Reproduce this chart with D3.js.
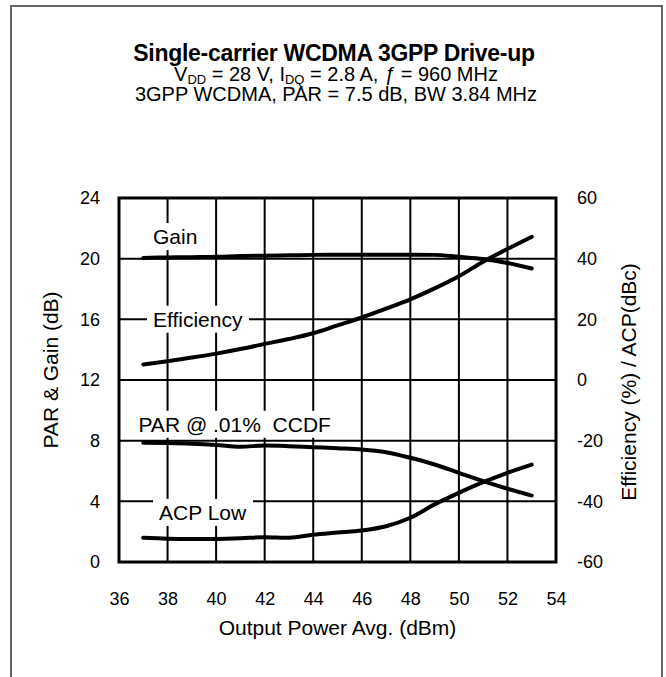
<!DOCTYPE html>
<html>
<head>
<meta charset="utf-8">
<script src="https://cdn.jsdelivr.net/npm/d3@7"></script>
<style>
  body { margin: 0; background: #fff; }
  text { font-family: Arial, "Liberation Sans", sans-serif; fill: #000; }
</style>
</head>
<body>
<svg id="chart" width="666" height="677"></svg>
<script>
/* Drive-up curves for a single-carrier WCDMA amplifier. Gain and PAR use
   the left axis (dB); efficiency and ACP use the right axis. */
const WIDTH = 666, HEIGHT = 677;
const plot = {left: 119, right: 556, top: 198, bottom: 562};

// values
const pout = [37, 38, 39, 40, 41, 42, 43, 44, 45, 46, 47, 48, 49, 50, 51, 52, 53];
const gain = [20.05, 20.08, 20.1, 20.12, 20.18, 20.2, 20.22, 20.25, 20.26, 20.26, 20.26, 20.26, 20.25, 20.12, 19.98, 19.72, 19.35];
const par = [7.86, 7.84, 7.8, 7.72, 7.6, 7.68, 7.64, 7.57, 7.5, 7.42, 7.24, 6.87, 6.43, 5.88, 5.33, 4.83, 4.38];
const efficiency = [5.1, 6.2, 7.4, 8.7, 10.2, 11.9, 13.5, 15.4, 18.0, 20.6, 23.5, 26.6, 30.2, 34.2, 39.0, 43.2, 47.2];
const acp = [-52.0, -52.3, -52.4, -52.4, -52.2, -51.8, -52.0, -51.0, -50.3, -49.6, -48.2, -45.4, -41.0, -37.2, -33.7, -30.6, -27.9];

const xTicks = [36, 38, 40, 42, 44, 46, 48, 50, 52, 54];
const leftTicks = [0, 4, 8, 12, 16, 20, 24];
const rightTicks = [-60, -40, -20, 0, 20, 40, 60];

// curve labels: [text, x (dBm), y (left axis dB)]
const curveLabels = [
    ['Gain', 37.4, 21.45],
    ['Efficiency', 37.4, 16.0],
    ['PAR @ .01%  CCDF', 36.8, 9.07],
    ['ACP Low', 37.65, 3.26]
];

const x = d3.scaleLinear().domain([36, 54]).range([plot.left, plot.right]);
const yLeft = d3.scaleLinear().domain([0, 24]).range([plot.bottom, plot.top]);
const yRight = d3.scaleLinear().domain([-60, 60]).range([plot.bottom, plot.top]);

const svg = d3.select('#chart');

// outer frame, open at the bottom
svg.append('path')
    .attr('d', `M11,${HEIGHT} V6 H662 V${HEIGHT}`)
    .attr('fill', 'none')
    .attr('stroke', '#666')
    .attr('stroke-width', 2);

// title block
const title = svg.append('g').attr('text-anchor', 'middle');
title.append('text')
    .attr('x', 334).attr('y', 61)
    .attr('font-size', 23).attr('font-weight', 'bold')
    .attr('letter-spacing', -0.3)
    .text('Single-carrier WCDMA 3GPP  Drive-up');
let line2 = title.append('text').attr('x', 336).attr('y', 81).attr('font-size', 20);
line2.append('tspan').text('V');
line2.append('tspan').attr('font-size', 13).attr('dy', 3).text('DD');
line2.append('tspan').attr('dy', -3).text(' = 28 V, I');
line2.append('tspan').attr('font-size', 13).attr('dy', 3).text('DQ');
line2.append('tspan').attr('dy', -3).text(' = 2.8 A, ');
line2.append('tspan').attr('font-style', 'italic').text('ƒ');
line2.append('tspan').text(' = 960 MHz');
title.append('text')
    .attr('x', 336).attr('y', 101)
    .attr('font-size', 20)
    .text('3GPP WCDMA, PAR = 7.5 dB, BW 3.84 MHz');

// grid
const grid = svg.append('g').attr('stroke', '#000').attr('stroke-width', 2);
grid.selectAll('line.v')
    .data(xTicks.slice(1, -1))
    .join('line')
    .attr('class', 'v')
    .attr('x1', d => x(d)).attr('x2', d => x(d))
    .attr('y1', plot.top).attr('y2', plot.bottom);
grid.selectAll('line.h')
    .data(leftTicks.slice(1, -1))
    .join('line')
    .attr('class', 'h')
    .attr('x1', plot.left).attr('x2', plot.right)
    .attr('y1', d => yLeft(d)).attr('y2', d => yLeft(d));

// white boxes behind the curve labels break the grid
const labels = svg.append('g');
curveLabels.forEach(([txt, lx, ly]) => {
    let box = labels.append('rect').attr('fill', '#fff');
    let t = labels.append('text')
        .attr('x', x(lx)).attr('y', yLeft(ly))
        .attr('dy', '0.35em')
        .attr('font-size', 21)
        .style('white-space', 'pre')
        .text(txt);
    let bb = t.node().getBBox();
    box.attr('x', bb.x - 6).attr('y', bb.y - 2)
        .attr('width', bb.width + 12).attr('height', bb.height + 4);
});

// plot border
svg.append('rect')
    .attr('x', plot.left).attr('y', plot.top)
    .attr('width', plot.right - plot.left).attr('height', plot.bottom - plot.top)
    .attr('fill', 'none').attr('stroke', '#000').attr('stroke-width', 3);

// curves
const leftLine = d3.line().x((d, i) => x(pout[i])).y(d => yLeft(d)).curve(d3.curveMonotoneX);
const rightLine = d3.line().x((d, i) => x(pout[i])).y(d => yRight(d)).curve(d3.curveMonotoneX);
const curves = svg.append('g')
    .attr('fill', 'none').attr('stroke', '#000')
    .attr('stroke-width', 4).attr('stroke-linecap', 'round');
curves.append('path').attr('d', leftLine(gain));
curves.append('path').attr('d', leftLine(par));
curves.append('path').attr('d', rightLine(efficiency));
curves.append('path').attr('d', rightLine(acp));

// axes (labels only, the frame is drawn above)
const axisFont = g => g.call(a => a.select('.domain').remove())
    .call(a => a.selectAll('.tick line').remove())
    .call(a => a.selectAll('.tick text').attr('font-size', 18)
        .attr('font-family', 'Arial, "Liberation Sans", sans-serif').attr('fill', '#000'));
const plain = d => String(d);   // hyphen minus, like the reference

svg.append('g')
    .attr('transform', `translate(0,${plot.bottom + 22})`)
    .call(d3.axisBottom(x).tickValues(xTicks).tickFormat(plain).tickSize(0).tickPadding(8))
    .call(axisFont);
svg.append('g')
    .attr('transform', `translate(${plot.left - 19},0)`)
    .call(d3.axisLeft(yLeft).tickValues(leftTicks).tickFormat(plain).tickSize(0).tickPadding(0))
    .call(axisFont);
svg.append('g')
    .attr('transform', `translate(${plot.right + 21},0)`)
    .call(d3.axisRight(yRight).tickValues(rightTicks).tickFormat(plain).tickSize(0).tickPadding(0))
    .call(axisFont);

svg.append('text')
    .attr('x', (plot.left + plot.right) / 2).attr('y', 635)
    .attr('text-anchor', 'middle').attr('font-size', 21)
    .text('Output Power Avg. (dBm)');
svg.append('text')
    .attr('transform', 'translate(58,370) rotate(-90)')
    .attr('text-anchor', 'middle').attr('font-size', 21)
    .text('PAR & Gain (dB)');
svg.append('text')
    .attr('transform', 'translate(636,382) rotate(-90)')
    .attr('text-anchor', 'middle').attr('font-size', 21)
    .text('Efficiency (%) / ACP(dBc)');
</script>
</body>
</html>
